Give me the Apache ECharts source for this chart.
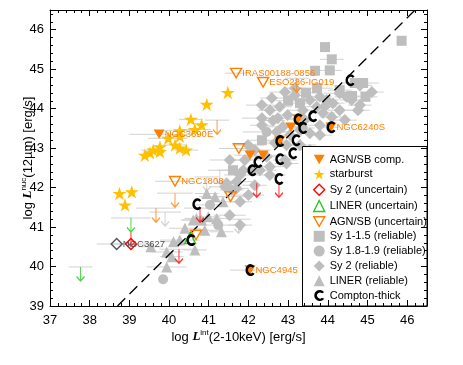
<!DOCTYPE html>
<html><head><meta charset="utf-8">
<script src="https://cdn.jsdelivr.net/npm/echarts@6/dist/echarts.min.js"></script>
<style>html,body{margin:0;padding:0;background:#fff}#c{width:463px;height:365px}</style>
</head><body><div id="c"></div>
<script>
// ---- data: [log Lx, log L12, xerr, label] ----
const agnSbComp = [
  [39.75, 43.35, 0.75, 'NGC3690E'], [42.04, 42.82, 0.4], [42.37, 42.82, 0.4], [43.07, 43.53, 0.3],
  [43.25, 43.73, 0.3], [42.79, 43.18, 0.3], [44.08, 43.53, 0.2, 'NGC6240S'], [42.04, 39.91, 0.5, 'NGC4945']
];
const starburst = [
  [41.48, 44.41, 0], [40.95, 44.11, 0], [40.55, 43.73, 0.3], [40.82, 43.59, 0], [40.65, 43.47, 0.4],
  [40.27, 43.44, 0.4], [39.98, 43.25, 0.5], [40.27, 43.30, 0], [40.15, 43.08, 0.3], [40.27, 43.00, 0],
  [40.43, 42.95, 0.3], [39.77, 43.03, 0], [39.60, 42.95, 0.3], [39.77, 42.91, 0], [39.39, 42.82, 0],
  [39.52, 42.88, 0], [38.75, 41.85, 0], [39.06, 41.89, 0], [38.89, 41.56, 0]
];
const sy2Unc = [[39.04, 40.57, 0.5]];
const sy2UncLim = [[42.21, 42.11, 0], [42.77, 42.11, 0], [40.78, 41.48, 0.4], [40.25, 40.44, 0.5], [39.04, 40.87, 0]];
const linerUnc = [[40.53, 40.72, 0]];
const linerUncLim = [[39.04, 41.23, 0.5], [37.77, 39.99, 0.3]];
const agnSbUnc = [
  [41.69, 44.90, 0.28, 'IRAS00188-0856'], [42.37, 44.67, 0, 'ESO286-IG019'], [41.76, 42.99, 0.5],
  [40.15, 42.16, 0.5, 'NGC1808'], [41.55, 41.77, 0.5], [40.68, 40.80, 0]
];
const agnSbUncLim = [[43.22, 44.77, 0.3], [41.21, 43.71, 0.3], [40.15, 41.86, 0.45], [39.67, 41.48, 0.5]];
const otherUnc = [[38.68, 40.57, 0.5, 'NGC3627']];
const grayLim = [[40.95, 42.27, 0.3], [39.90, 41.38, 0.4], [41.28, 42.44, 0.3], [41.75, 41.20, 0.3]];
const sy1 = [
  [45.86, 45.72, 0], [43.93, 45.56, 0], [44.10, 45.25, 0.3], [44.05, 44.97, 0.3], [43.68, 44.96, 0],
  [44.89, 44.65, 0.4], [44.68, 44.65, 0.3], [43.00, 44.20, 0.3], [43.73, 44.52, 0.4], [44.30, 44.47, 0.3],
  [43.30, 44.14, 0.3], [44.61, 44.32, 0.3], [42.34, 43.20, 0.3], [41.61, 42.44, 0.4], [43.45, 44.40, 0.3],
  [44.95, 44.30, 0.3]
];
const sy18 = [[42.46, 43.41, 0.6], [41.03, 41.56, 0.4], [41.24, 41.05, 0.5], [39.85, 39.68, 0], [42.08, 42.44, 0.3], [43.37, 43.51, 0.3]];
const sy2 = [
  [42.79, 44.05, 0.3], [42.74, 43.76, 0.4], [42.99, 43.84, 0.3], [43.37, 43.96, 0.4], [43.55, 44.22, 0.3],
  [43.80, 44.30, 0.3], [43.97, 44.22, 0.3], [44.13, 44.14, 0.3], [44.30, 44.39, 0.4], [44.47, 44.30, 0.3],
  [44.60, 44.22, 0.3], [43.88, 43.89, 0.3], [43.72, 44.05, 0.4], [44.10, 43.79, 0.3], [42.87, 43.54, 0.4],
  [42.71, 43.41, 0.3], [43.30, 43.46, 0.3], [43.55, 43.38, 0.3], [42.67, 43.13, 0.4], [42.96, 43.08, 0.3],
  [42.46, 42.78, 0.5], [42.54, 42.53, 0.4], [42.29, 42.44, 0.4], [41.87, 42.44, 0.5], [41.70, 42.15, 0.4],
  [41.41, 42.02, 0.4], [41.58, 41.94, 0.3], [42.96, 42.61, 0.3], [41.79, 41.64, 0.3], [42.00, 41.81, 0.4],
  [41.45, 42.11, 0.3], [41.70, 41.98, 0.3], [42.34, 43.76, 0.5], [42.54, 43.96, 0.3], [43.17, 44.34, 0.3],
  [43.42, 43.71, 0.3], [43.80, 43.58, 0.3], [44.30, 43.96, 0.3], [44.81, 44.09, 0.3], [42.16, 42.95, 0.4],
  [41.91, 42.70, 0.5], [42.34, 44.09, 0.4], [42.59, 44.27, 0.3], [42.92, 44.42, 0.4], [43.17, 44.52, 0.3],
  [44.81, 44.59, 0.3], [45.11, 44.42, 0.3], [44.76, 43.96, 0.3], [44.43, 43.71, 0.3], [43.80, 43.33, 0.3],
  [43.30, 43.08, 0.4], [42.92, 42.70, 0.3], [42.54, 42.32, 0.4], [42.16, 42.06, 0.3], [41.79, 42.32, 0.4],
  [41.53, 42.70, 0.5], [41.99, 43.08, 0.4], [42.34, 43.58, 0.3], [43.05, 43.33, 0.3], [43.55, 42.95, 0.3],
  [41.53, 41.30, 0.4], [41.79, 41.05, 0.3], [42.62, 43.70, 0.3], [43.92, 44.05, 0.3]
];
const liner = [
  [40.95, 41.85, 0.3], [41.16, 41.77, 0.4], [41.36, 41.64, 0.3], [40.82, 41.18, 0.5], [41.32, 40.88, 0.3],
  [40.27, 40.67, 0.5], [40.11, 40.63, 0.3], [39.94, 40.37, 0.4], [40.07, 40.25, 0.3], [39.94, 39.99, 0.5],
  [39.54, 40.50, 0.3], [40.61, 41.18, 0.3], [40.99, 41.26, 0.3], [40.69, 41.22, 0.3], [41.20, 41.22, 0.3],
  [40.90, 40.92, 0.4], [40.65, 40.42, 0.3], [40.40, 40.97, 0.4]
];
const comptonThick = [
  [44.56, 44.72], [43.25, 43.73], [43.62, 43.81], [44.08, 43.53], [43.37, 43.51], [42.79, 43.18],
  [43.20, 43.20], [43.12, 42.87], [42.79, 42.72], [42.24, 42.65], [42.09, 42.44], [42.77, 42.22],
  [40.70, 41.58], [40.55, 40.67], [42.04, 39.91]
];
const relationLine = [[38.7, 39.0], [46.2, 46.5]];
const xTickMin = 37, xTickMax = 46.5, yTickMin = 39, yTickMax = 46.5;

// ---- styles ----
const FONT = 'Liberation Sans, Arial, sans-serif';
const ORANGE = '#FF7F00', GOLD = '#FFC000', RED = '#FF0000', GREEN = '#22CC22', GRAY = '#BEBEBE', ERR = '#D2D2D2';
const STAR = 'path://M50,0 L61.2,34.5 L97.6,34.5 L68.2,55.9 L79.4,90.5 L50,69.1 L20.6,90.5 L31.8,55.9 L2.4,34.5 L38.8,34.5 Z';
const DTRI = 'path://M0,0 L10,0 L5,8.66 Z';
const CSYM = 'path://M8.9,2.0 A5,5 0 1 0 8.9,8.0 L7.0,7.0 A2.7,2.7 0 1 1 7.0,3.0 Z';
const ARROW = 'path://M4,0 L4,14 M0,9.5 L4,14 L8,9.5';
const CLEAR = 'rgba(0,0,0,0)';

function toData(arr) {
  return arr.map(d => d[3] ? { value: [d[0], d[1]], name: d[3], label: { show: true } } : [d[0], d[1]]);
}
function pts(name, arr, symbol, size, fill, border, z, labelColor) {
  return {
    type: 'scatter', name, data: toData(arr), symbol, symbolSize: size, symbolKeepAspect: true, z,
    itemStyle: { color: fill, borderColor: border || fill, borderWidth: border ? 1.4 : 0, opacity: 1 },
    label: { show: false, position: 'right', distance: 0, formatter: '{b}', color: labelColor || ORANGE, fontSize: 9.5, fontFamily: FONT },
    emphasis: { disabled: true }, silent: true
  };
}
function lims(name, arr, color, z) {
  return {
    type: 'scatter', name, data: toData(arr), symbol: ARROW, symbolSize: [8, 14], symbolOffset: [0, 7], z,
    itemStyle: { color: CLEAR, borderColor: color, borderWidth: 1.3 }, emphasis: { disabled: true }, silent: true
  };
}
const allPts = [agnSbComp, starburst, sy2Unc, sy2UncLim, linerUnc, linerUncLim, agnSbUnc, agnSbUncLim, otherUnc, grayLim, sy1, sy18, sy2, liner];
const errData = [];
allPts.forEach(a => a.forEach(d => { if (d[2] > 0) errData.push([d[0], d[1], d[2]]); }));

function axis(pos, min, max, interval, len, main, extra) {
  return Object.assign({
    type: 'value', min, max, interval, position: pos, z: 15, scale: true,
    axisLine: { show: main, onZero: false, lineStyle: { color: '#000', width: 1 } },
    axisTick: { show: true, inside: true, length: len, lineStyle: { color: '#000', width: 1 } },
    axisLabel: { show: false }, splitLine: { show: false }, minorTick: { show: false }
  }, extra || {});
}
const richT = {
  t: { fontSize: 13, fontFamily: FONT, color: '#000', lineHeight: 16 },
  L: { fontSize: 13, fontFamily: 'Liberation Serif, serif', fontStyle: 'italic', fontWeight: 'bold', color: '#000', lineHeight: 16 },
  s: { fontSize: 8, fontFamily: FONT, color: '#000', lineHeight: 8, verticalAlign: 'top' }
};
const labelFmt = v => (Math.abs(v - Math.round(v)) < 1e-6 && v < 46.45) ? String(Math.round(v)) : '';

const chart = echarts.init(document.getElementById('c'));
chart.setOption({
  animation: false,
  backgroundColor: '#fff',
  grid: { left: 50, right: 36, top: 10, bottom: 59, outerBoundsMode: 'none', containLabel: false },
  xAxis: [
    axis('bottom', xTickMin, xTickMax, 1, 6, true, {
      axisLabel: { show: true, formatter: labelFmt, fontSize: 13, color: '#000', margin: 8, fontFamily: FONT },
      name: '{t|log }{L|L}{s|int}{t|(2-10keV) [erg/s]}', nameLocation: 'middle', nameGap: 23, nameMoveOverlap: false,
      nameTextStyle: { rich: richT }
    }),
    axis('bottom', xTickMin, xTickMax, 0.2, 3, false),
    axis('top', xTickMin, xTickMax, 1, 6, true),
    axis('top', xTickMin, xTickMax, 0.2, 3, false)
  ],
  yAxis: [
    axis('left', yTickMin, yTickMax, 1, 6, true, {
      axisLabel: { show: true, formatter: labelFmt, fontSize: 13, color: '#000', margin: 6, fontFamily: FONT },
      name: '{t|log }{L|L}{s|nuc}{t|(12µm) [erg/s]}', nameLocation: 'middle', nameGap: 14, nameMoveOverlap: false,
      nameTextStyle: { rich: richT }
    }),
    axis('left', yTickMin, yTickMax, 0.2, 3, false),
    axis('right', yTickMin, yTickMax, 1, 6, true),
    axis('right', yTickMin, yTickMax, 0.2, 3, false)
  ],
  graphic: [{ type: 'rect', z: 10, shape: { x: 302.5, y: 146.5, width: 124.5, height: 159.5 }, style: { fill: '#fff', stroke: '#000', lineWidth: 1 } }],
  legend: {
    orient: 'vertical', left: 308, top: 149, itemWidth: 11, itemHeight: 11, itemGap: 3.8, z: 20,
    textStyle: { fontSize: 11, fontFamily: FONT, color: '#000', lineHeight: 11 }, selectedMode: false,
    data: [
      { name: 'AGN/SB comp.', icon: DTRI },
      { name: 'starburst', icon: STAR },
      { name: 'Sy 2 (uncertain)', icon: 'diamond', itemStyle: { color: CLEAR, borderColor: RED, borderWidth: 1.4 } },
      { name: 'LINER (uncertain)', icon: 'triangle', itemStyle: { color: CLEAR, borderColor: GREEN, borderWidth: 1.4 } },
      { name: 'AGN/SB (uncertain)', icon: DTRI, itemStyle: { color: CLEAR, borderColor: ORANGE, borderWidth: 1.4 } },
      { name: 'Sy 1-1.5 (reliable)', icon: 'rect', itemStyle: { borderWidth: 0 } },
      { name: 'Sy 1.8-1.9 (reliable)', icon: 'circle', itemStyle: { borderWidth: 0 } },
      { name: 'Sy 2 (reliable)', icon: 'diamond', itemStyle: { borderWidth: 0 } },
      { name: 'LINER (reliable)', icon: 'triangle', itemStyle: { borderWidth: 0 } },
      { name: 'Compton-thick', icon: CSYM, itemStyle: { borderWidth: 0 } }
    ]
  },
  series: [
    {
      type: 'custom', name: 'errors', data: errData, z: 1, silent: true, clip: true, encode: { x: 0, y: 1 },
      renderItem: (params, api) => {
        const x = api.value(0), y = api.value(1), e = api.value(2);
        const p1 = api.coord([x - e, y]), p2 = api.coord([x + e, y]);
        return { type: 'line', shape: { x1: p1[0], y1: p1[1], x2: p2[0], y2: p2[1] }, style: { stroke: ERR, lineWidth: 1 } };
      }
    },
    lims('gray limits', grayLim, '#C8C8C8', 2),
    pts('Sy 1-1.5 (reliable)', sy1, 'rect', 10, GRAY, null, 2),
    pts('Sy 2 (reliable)', sy2, 'diamond', 12, GRAY, null, 2),
    pts('Sy 1.8-1.9 (reliable)', sy18, 'circle', 10, GRAY, null, 2),
    pts('LINER (reliable)', liner, 'triangle', 11, GRAY, null, 2),
    {
      type: 'line', name: 'relation', data: relationLine, z: 3, symbol: 'none', silent: true,
      lineStyle: { color: '#000', width: 1.3, type: [11, 6] }
    },
    pts('starburst', starburst, STAR, 14, GOLD, null, 4),
    pts('other', otherUnc, 'diamond', 11, CLEAR, '#555555', 4, '#555555'),
    lims('Sy2 limits', sy2UncLim, RED, 4),
    lims('LINER limits', linerUncLim, GREEN, 4),
    lims('AGN/SB limits', agnSbUncLim, ORANGE, 4),
    pts('Sy 2 (uncertain)', sy2Unc, 'diamond', 11, CLEAR, RED, 4),
    pts('LINER (uncertain)', linerUnc, 'triangle', 11, CLEAR, GREEN, 4),
    pts('AGN/SB (uncertain)', agnSbUnc, DTRI, 11, CLEAR, ORANGE, 4),
    pts('AGN/SB comp.', agnSbComp, DTRI, 11, ORANGE, null, 4),
    pts('Compton-thick', comptonThick, CSYM, [10, 12], '#000', null, 5)
  ]
});
</script></body></html>
